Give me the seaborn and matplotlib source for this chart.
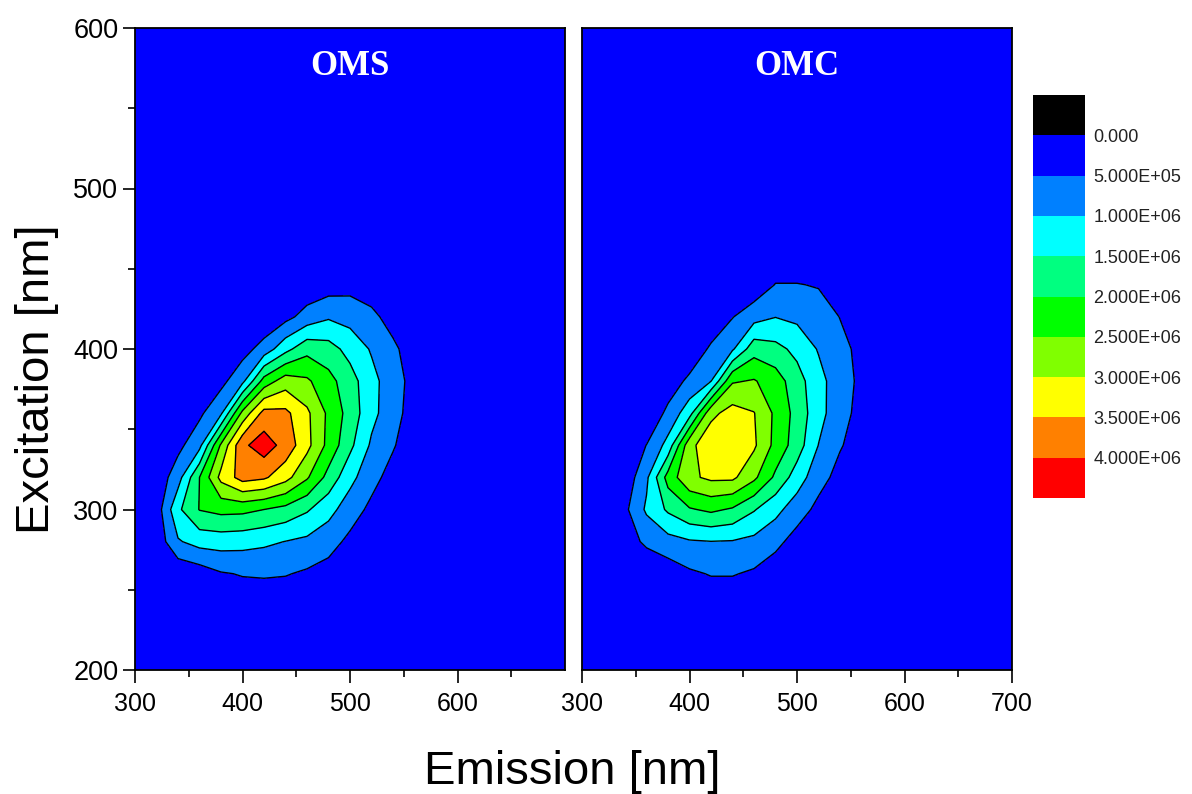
import numpy as np
import matplotlib
matplotlib.use("Agg")
import matplotlib.pyplot as plt
from matplotlib import font_manager as fm
from matplotlib.colors import ListedColormap, BoundaryNorm
from matplotlib.cm import ScalarMappable
import seaborn as sns

# ---------------- data ----------------
em_nm = [300, 320, 340, 360, 380, 400, 420, 440, 460, 480, 500,
         520, 540, 560, 580, 600, 620, 640, 660, 680, 700]
ex_nm = [200, 220, 240, 260, 280, 300, 320, 340, 360, 380, 400,
         420, 440, 460, 480, 500, 520, 540, 560, 580, 600]

# region of the maps where the signal is non-zero (intensity in units of 1e6)
core_em = [300, 320, 340, 360, 380, 400, 420, 440, 460, 480, 500, 520, 540, 560, 580]
core_ex = [240, 260, 280, 300, 320, 340, 360, 380, 400, 420, 440, 460]

oms_core = [
    [0.00, 0.00, 0.00, 0.10, 0.15, 0.20, 0.20, 0.15, 0.15, 0.05, 0.00, 0.00, 0.00, 0.00, 0.00],
    [0.00, 0.05, 0.10, 0.23, 0.46, 0.53, 0.55, 0.53, 0.43, 0.30, 0.10, 0.03, 0.00, 0.00, 0.00],
    [0.00, 0.16, 0.95, 1.19, 1.22, 1.18, 1.10, 0.99, 0.89, 0.70, 0.38, 0.15, 0.05, 0.00, 0.00],
    [0.03, 0.23, 1.40, 2.02, 2.15, 2.13, 2.00, 1.84, 1.56, 1.17, 0.74, 0.38, 0.15, 0.03, 0.00],
    [0.00, 0.16, 0.79, 2.00, 3.15, 3.70, 3.58, 3.18, 2.56, 1.83, 1.15, 0.67, 0.30, 0.10, 0.00],
    [0.00, 0.03, 0.36, 0.85, 2.58, 3.90, 4.25, 3.82, 3.15, 2.35, 1.62, 0.92, 0.55, 0.15, 0.02],
    [0.00, 0.02, 0.15, 0.40, 0.92, 2.64, 3.68, 3.62, 3.10, 2.40, 1.80, 1.15, 0.69, 0.27, 0.05],
    [0.00, 0.00, 0.05, 0.15, 0.35, 0.87, 2.20, 2.76, 2.58, 2.17, 1.71, 1.16, 0.72, 0.32, 0.08],
    [0.00, 0.00, 0.02, 0.05, 0.15, 0.30, 0.70, 1.34, 1.84, 1.70, 1.33, 0.95, 0.60, 0.24, 0.05],
    [0.00, 0.00, 0.00, 0.00, 0.02, 0.05, 0.10, 0.35, 0.70, 0.94, 0.82, 0.62, 0.31, 0.10, 0.00],
    [0.00, 0.00, 0.00, 0.00, 0.00, 0.02, 0.05, 0.10, 0.15, 0.26, 0.33, 0.23, 0.05, 0.00, 0.00],
    [0.00, 0.00, 0.00, 0.00, 0.00, 0.00, 0.00, 0.00, 0.00, 0.00, 0.00, 0.00, 0.00, 0.00, 0.00],
]

omc_core = [
    [0.00, 0.00, 0.00, 0.00, 0.05, 0.10, 0.15, 0.15, 0.10, 0.05, 0.00, 0.00, 0.00, 0.00, 0.00],
    [0.00, 0.00, 0.03, 0.08, 0.20, 0.42, 0.53, 0.53, 0.43, 0.21, 0.05, 0.00, 0.00, 0.00, 0.00],
    [0.00, 0.00, 0.26, 0.60, 0.82, 0.95, 0.99, 0.97, 0.87, 0.64, 0.30, 0.15, 0.03, 0.00, 0.00],
    [0.00, 0.02, 0.39, 1.08, 1.58, 1.95, 2.10, 1.94, 1.54, 1.15, 0.73, 0.37, 0.15, 0.03, 0.00],
    [0.00, 0.00, 0.17, 0.90, 2.20, 2.90, 3.10, 3.10, 2.61, 1.90, 1.26, 0.68, 0.34, 0.10, 0.00],
    [0.00, 0.00, 0.10, 0.51, 1.17, 2.85, 3.35, 3.40, 3.08, 2.35, 1.75, 0.99, 0.54, 0.27, 0.03],
    [0.00, 0.00, 0.00, 0.05, 0.63, 1.30, 2.87, 3.20, 3.02, 2.40, 1.82, 1.18, 0.68, 0.34, 0.08],
    [0.00, 0.00, 0.00, 0.02, 0.20, 0.62, 0.99, 2.45, 2.54, 2.25, 1.70, 1.18, 0.70, 0.40, 0.10],
    [0.00, 0.00, 0.00, 0.00, 0.05, 0.10, 0.59, 0.93, 1.80, 1.65, 1.37, 0.96, 0.62, 0.39, 0.08],
    [0.00, 0.00, 0.00, 0.00, 0.00, 0.03, 0.10, 0.48, 0.81, 0.99, 0.89, 0.72, 0.49, 0.15, 0.02],
    [0.00, 0.00, 0.00, 0.00, 0.00, 0.00, 0.02, 0.10, 0.15, 0.52, 0.52, 0.47, 0.25, 0.05, 0.00],
    [0.00, 0.00, 0.00, 0.00, 0.00, 0.00, 0.00, 0.00, 0.05, 0.10, 0.10, 0.05, 0.00, 0.00, 0.00],
]

panel_titles = ["OMS", "OMC"]
scale = 1e6

cbar_bounds = [-5.0e5, 0.0, 5.0e5, 1.0e6, 1.5e6, 2.0e6, 2.5e6, 3.0e6, 3.5e6, 4.0e6, 4.5e6]
cbar_ticks = [0.0, 5.0e5, 1.0e6, 1.5e6, 2.0e6, 2.5e6, 3.0e6, 3.5e6, 4.0e6]
cbar_labels = ["0.000", "5.000E+05", "1.000E+06", "1.500E+06", "2.000E+06",
               "2.500E+06", "3.000E+06", "3.500E+06", "4.000E+06"]
fill_levels = [0.0, 5.0e5, 1.0e6, 1.5e6, 2.0e6, 2.5e6, 3.0e6, 3.5e6, 4.0e6, 5.0e6]
line_levels = [5.0e5, 1.0e6, 1.5e6, 2.0e6, 2.5e6, 3.0e6, 3.5e6, 4.0e6]

x_major = [300, 400, 500, 600, 700]
x_minor = [350, 450, 550, 650]
y_major = [200, 300, 400, 500, 600]
y_minor = [250, 350, 450, 550]

# ---------------- style ----------------
sns.set_style("ticks")
plt.rcParams["font.family"] = ["Liberation Sans", "DejaVu Sans"]
plt.rcParams["axes.edgecolor"] = "black"
plt.rcParams["xtick.color"] = "black"
plt.rcParams["ytick.color"] = "black"
plt.rcParams["text.color"] = "black"
plt.rcParams["axes.labelcolor"] = "black"


def font_ok(name):
    try:
        fm.findfont(fm.FontProperties(family=name), fallback_to_default=False)
        return True
    except Exception:
        return False


narrow = font_ok("Liberation Sans Narrow")
narrow_family = ["Liberation Sans Narrow", "Liberation Sans"] if narrow else ["Liberation Sans"]
xtick_size = 21.5 if narrow else 18
xlabel_size = 38 if narrow else 34

palette = sns.color_palette(["#000000", "#0000FF", "#0080FF", "#00FFFF", "#00FF80",
                             "#00FF00", "#80FF00", "#FFFF00", "#FF8000", "#FF0000"])
fill_colors = palette[1:]

W, H = 1192, 794
fig = plt.figure(figsize=(W / 100, H / 100), dpi=100)
ax1 = fig.add_axes([135 / W, (H - 670) / H, 430 / W, 642 / H])
ax2 = fig.add_axes([582 / W, (H - 670) / H, 430 / W, 642 / H])


def full_grid(core):
    z = np.zeros((len(ex_nm), len(em_nm)))
    r0 = ex_nm.index(core_ex[0])
    c0 = em_nm.index(core_em[0])
    arr = np.array(core) * scale
    z[r0:r0 + arr.shape[0], c0:c0 + arr.shape[1]] = arr
    return z


for ax, core, title in zip([ax1, ax2], [oms_core, omc_core], panel_titles):
    z = full_grid(core)
    ax.contourf(em_nm, ex_nm, z, levels=fill_levels, colors=fill_colors)
    ax.contour(em_nm, ex_nm, z, levels=line_levels, colors="black", linewidths=1.0)
    ax.set_xlim(300, 700)
    ax.set_ylim(200, 600)
    for sp in ax.spines.values():
        sp.set_visible(True)
        sp.set_color("black")
        sp.set_linewidth(1.3)
    ax.text(0.5, 0.94, title, transform=ax.transAxes, ha="center", va="center",
            color="white", fontsize=25, fontweight="bold",
            family=["Liberation Serif", "DejaVu Serif"])
    ax.tick_params(axis="both", which="major", direction="out", length=9, width=1.2)
    ax.tick_params(axis="both", which="minor", direction="out", length=5, width=1.2)
    ax.set_xticks(x_minor, minor=True)

# left panel ticks
ax1.set_xticks(x_major[:-1])
ax1.set_xticklabels([str(v) for v in x_major[:-1]], fontsize=xtick_size, family=narrow_family)
ax1.set_yticks(y_major)
ax1.set_yticks(y_minor, minor=True)
ax1.set_yticklabels([str(v) for v in y_major], fontsize=19.5)
ax1.tick_params(axis="x", pad=7)
ax1.tick_params(axis="y", pad=3)

# right panel ticks
ax2.set_xticks(x_major)
ax2.set_xticklabels([str(v) for v in x_major], fontsize=xtick_size, family=narrow_family)
ax2.set_yticks([])
ax2.tick_params(axis="y", which="both", left=False, labelleft=False)
ax2.tick_params(axis="x", pad=7)

# axis labels
fig.text(37 / W, 1 - 379 / H, "Excitation [nm]", rotation=90, ha="center", va="center",
         fontsize=34, color="black")
fig.text(572 / W, 1 - 784 / H, "Emission [nm]", ha="center", va="baseline",
         fontsize=xlabel_size, family=narrow_family, color="black")

# colour scale
cax = fig.add_axes([1033 / W, (H - 498) / H, 52 / W, 403 / H])
sm = ScalarMappable(norm=BoundaryNorm(cbar_bounds, len(palette)), cmap=ListedColormap(palette))
cb = fig.colorbar(sm, cax=cax, boundaries=cbar_bounds, spacing="uniform")
cb.outline.set_visible(False)
cb.set_ticks(cbar_ticks)
cb.set_ticklabels(cbar_labels)
cax.minorticks_off()
cax.invert_yaxis()
cax.tick_params(which="both", length=0, pad=6, labelsize=13, labelcolor="#222222")

fig.savefig("out.png", dpi=100)
